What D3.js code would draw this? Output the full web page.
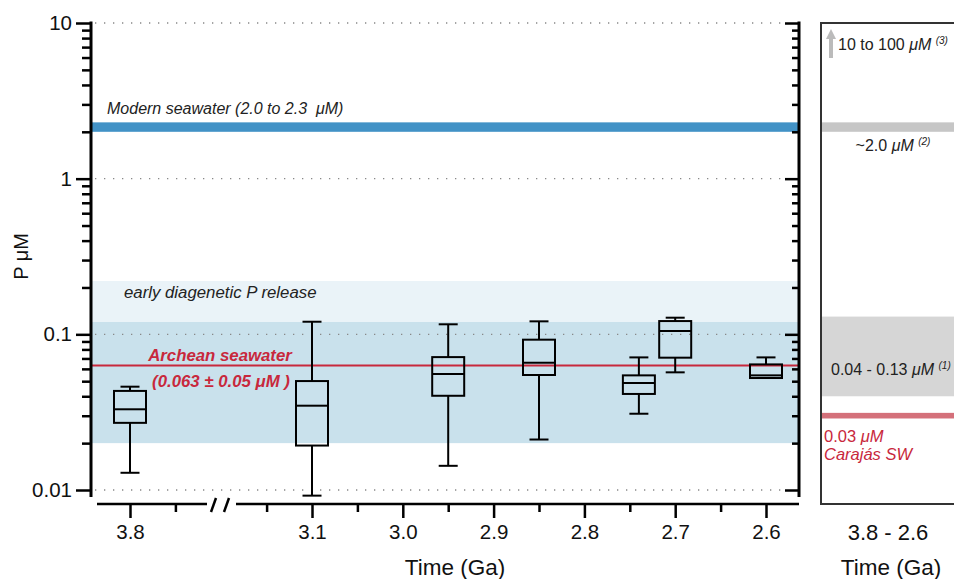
<!DOCTYPE html>
<html>
<head>
<meta charset="utf-8">
<script src="https://cdn.jsdelivr.net/npm/d3@7"></script>
<style>
body { margin: 0; background: #fff; }
text { font-family: "Liberation Sans", Arial, sans-serif; }
</style>
</head>
<body>
<svg width="954" height="579"></svg>
<script>
// box plot data (P, µM)
const ages        = [3.8, 3.1, 2.95, 2.85, 2.74, 2.70, 2.60];
const whiskerLow  = [0.0129, 0.0092, 0.0143, 0.0211, 0.0309, 0.057, 0.0524];
const q1          = [0.0270, 0.0193, 0.0403, 0.0548, 0.0414, 0.0708, 0.0524];
const median      = [0.0330, 0.0348, 0.0556, 0.0657, 0.0487, 0.105, 0.0545];
const q3          = [0.0433, 0.0501, 0.0714, 0.0924, 0.0545, 0.1217, 0.0641];
const whiskerHigh = [0.0461, 0.1205, 0.116, 0.1212, 0.0711, 0.1279, 0.0711];

const xMajorLeft  = [3.8];
const xMinorLeft  = [3.75];
const xMajorRight = [3.1, 3.0, 2.9, 2.8, 2.7, 2.6];
const xMinorRight = [3.15, 3.05, 2.95, 2.85, 2.75, 2.65];
const yMajor = [0.01, 0.1, 1, 10];

// reference ranges
const modernSW       = [2.0, 2.3];
const diageneticBand = [0.12, 0.22];
const archeanBand    = [0.02, 0.12];
const archeanMean    = 0.063;
const panelModern    = [2.0, 2.3];
const panelRange     = [0.04, 0.13];
const carajasSW      = [0.0288, 0.0313];

const svg = d3.select("svg");
const plot = {left: 91, right: 799, top: 23, bottom: 490};

const y = d3.scaleLog().domain([0.01, 10]).range([plot.bottom, plot.top]);
// broken time axis: same Ga-per-pixel on both sides of the break
const xL = d3.scaleLinear().domain([3.8, 3.7]).range([130, 220.8]);
const xR = d3.scaleLinear().domain([3.1, 2.6]).range([312, 766]);
const xPos = a => a > 3.5 ? xL(a) : xR(a);

const yAll = [];
yMajor.slice(0, 3).forEach(d => { for (let k = 1; k < 10; k++) yAll.push(d * k); });
yAll.push(10);
const isMajor = v => yMajor.some(m => Math.abs(m - v) / m < 1e-6);

// bands
function band(lo, hi, fill, x0, x1) {
  svg.append("rect")
    .attr("x", x0).attr("width", x1 - x0)
    .attr("y", y(hi)).attr("height", y(lo) - y(hi))
    .attr("fill", fill);
}
band(diageneticBand[0], diageneticBand[1], "#eaf3f8", plot.left, plot.right);
band(archeanBand[0], archeanBand[1], "#c9e1ec", plot.left, plot.right);
band(modernSW[0], modernSW[1], "#4292c6", plot.left, plot.right);

// dotted grid
svg.append("g").selectAll("line")
  .data(yMajor)
  .join("line")
  .attr("x1", plot.left + 4).attr("x2", plot.right - 12)
  .attr("y1", d => y(d)).attr("y2", d => y(d))
  .attr("stroke", "#888").attr("stroke-width", 1.3)
  .attr("stroke-dasharray", "1.3,7.7");

// archean mean line
svg.append("line")
  .attr("x1", plot.left).attr("x2", plot.right)
  .attr("y1", y(archeanMean)).attr("y2", y(archeanMean))
  .attr("stroke", "#c8283c").attr("stroke-width", 2);

// annotations
svg.append("text").attr("x", 107).attr("y", y(modernSW[1]) - 8)
  .attr("font-size", 16).attr("font-style", "italic").attr("fill", "#222")
  .text("Modern seawater (2.0 to 2.3\u00a0 μM)");
svg.append("text").attr("x", 124).attr("y", y(diageneticBand[1]) + 17)
  .attr("font-size", 16.8).attr("font-style", "italic").attr("fill", "#222")
  .text("early diagenetic P release");
svg.append("text").attr("x", 220).attr("y", y(archeanMean) - 5)
  .attr("text-anchor", "middle").attr("font-size", 16.8)
  .attr("font-style", "italic").attr("font-weight", "bold").attr("fill", "#c8283c")
  .text("Archean seawater");
svg.append("text").attr("x", 221).attr("y", y(archeanMean) + 21)
  .attr("text-anchor", "middle").attr("font-size", 16.8)
  .attr("font-style", "italic").attr("font-weight", "bold").attr("fill", "#c8283c")
  .text("(0.063 ± 0.05 μM )");

// boxes
const boxW = 32, capW = 19;
const boxes = svg.append("g").attr("stroke", "#000").attr("stroke-width", 2).attr("fill", "none");
ages.forEach((a, i) => {
  const cx = xPos(a);
  const g = boxes.append("g");
  g.append("line").attr("x1", cx).attr("x2", cx).attr("y1", y(whiskerHigh[i])).attr("y2", y(q3[i]));
  g.append("line").attr("x1", cx).attr("x2", cx).attr("y1", y(q1[i])).attr("y2", y(whiskerLow[i]));
  g.append("line").attr("x1", cx - capW / 2).attr("x2", cx + capW / 2).attr("y1", y(whiskerHigh[i])).attr("y2", y(whiskerHigh[i]));
  g.append("line").attr("x1", cx - capW / 2).attr("x2", cx + capW / 2).attr("y1", y(whiskerLow[i])).attr("y2", y(whiskerLow[i]));
  g.append("rect").attr("x", cx - boxW / 2).attr("width", boxW)
    .attr("y", y(q3[i])).attr("height", y(q1[i]) - y(q3[i]));
  g.append("line").attr("x1", cx - boxW / 2).attr("x2", cx + boxW / 2).attr("y1", y(median[i])).attr("y2", y(median[i]));
});

// left y axis
const yAxisL = svg.append("g").attr("transform", `translate(${plot.left},0)`)
  .call(d3.axisLeft(y).tickValues(yAll).tickSize(9).tickPadding(8)
    .tickFormat(d => isMajor(d) ? d3.format("~g")(d) : ""));
yAxisL.select(".domain").remove();
yAxisL.selectAll(".tick line").attr("stroke-width", 2.5)
  .filter(d => isMajor(d)).attr("x2", -15);
yAxisL.selectAll(".tick text").attr("font-size", 20.5).attr("fill", "#111")
  .attr("font-family", "Liberation Sans, Arial, sans-serif").attr("x", -19);
yAxisL.append("line").attr("y1", plot.top - 1.5).attr("y2", plot.bottom + 7)
  .attr("stroke", "#000").attr("stroke-width", 3);

// right y axis (ticks inward)
const yAxisR = svg.append("g").attr("transform", `translate(${plot.right},0)`)
  .call(d3.axisRight(y).tickValues(yAll).tickSize(-7).tickFormat(""));
yAxisR.select(".domain").remove();
yAxisR.selectAll(".tick line").attr("stroke-width", 2.5)
  .filter(d => isMajor(d)).attr("x2", -14);
yAxisR.append("line").attr("y1", plot.top - 1.5).attr("y2", plot.bottom + 7)
  .attr("stroke", "#000").attr("stroke-width", 3);

svg.append("text")
  .attr("transform", `translate(28,${(plot.top + plot.bottom) / 2}) rotate(-90)`)
  .attr("text-anchor", "middle").attr("font-size", 20).attr("fill", "#111")
  .text("P μM");

// broken x axis
const axisY = 504;
function xAxisPart(scale, majors, minors, x0, x1) {
  const g = svg.append("g").attr("transform", `translate(0,${axisY})`);
  g.append("line").attr("x1", x0).attr("x2", x1).attr("stroke", "#000").attr("stroke-width", 2.5);
  const maj = g.append("g").call(d3.axisBottom(scale).tickValues(majors).tickSize(14).tickPadding(6)
    .tickFormat(d3.format(".1f")));
  maj.select(".domain").remove();
  maj.selectAll(".tick line").attr("stroke-width", 2.5);
  maj.selectAll(".tick text").attr("font-size", 20.5).attr("fill", "#111")
    .attr("font-family", "Liberation Sans, Arial, sans-serif");
  const mnr = g.append("g").call(d3.axisBottom(scale).tickValues(minors).tickSize(8).tickFormat(""));
  mnr.select(".domain").remove();
  mnr.selectAll(".tick line").attr("stroke-width", 2.5);
}
xAxisPart(xL, xMajorLeft, xMinorLeft, 97, 207);
xAxisPart(xR, xMajorRight, xMinorRight, 236, plot.right);
// break marks
const brk = svg.append("g").attr("stroke", "#000").attr("stroke-width", 2.5);
[211, 224].forEach(bx => {
  brk.append("line").attr("x1", bx).attr("x2", bx + 5).attr("y1", axisY + 8).attr("y2", axisY - 6);
});

svg.append("text").attr("x", 455).attr("y", 575)
  .attr("text-anchor", "middle").attr("font-size", 22.5).attr("fill", "#111")
  .text("Time (Ga)");

// right-hand comparison panel
const panel = {left: 821, right: 960};
band(panelModern[0], panelModern[1], "#c6c6c6", panel.left, panel.right);
band(panelRange[0], panelRange[1], "#d6d6d6", panel.left, panel.right);
band(carajasSW[0], carajasSW[1], "#d4707a", panel.left, panel.right);
svg.append("rect")
  .attr("x", panel.left).attr("y", plot.top)
  .attr("width", panel.right - panel.left).attr("height", axisY - plot.top)
  .attr("fill", "none").attr("stroke", "#333").attr("stroke-width", 2);

// arrow for 10-100 µM
const arrowX = 831;
svg.append("line").attr("x1", arrowX).attr("x2", arrowX)
  .attr("y1", y(10) + 35).attr("y2", y(10) + 14)
  .attr("stroke", "#bbb").attr("stroke-width", 4);
svg.append("path")
  .attr("d", `M${arrowX - 5},${y(10) + 16}L${arrowX},${y(10) + 6}L${arrowX + 5},${y(10) + 16}Z`)
  .attr("fill", "#bbb");

function panelLabel(x, yy, parts, anchor) {
  const t = svg.append("text").attr("x", x).attr("y", yy)
    .attr("font-size", 16).attr("fill", "#222").attr("text-anchor", anchor || "start");
  parts.forEach(p => {
    const s = t.append("tspan").text(p.t);
    if (p.i) s.attr("font-style", "italic");
    if (p.sup) s.attr("font-size", 10).attr("dy", -6);
  });
}
panelLabel(838, 50, [{t: "10 to 100 "}, {t: "μM", i: true}, {t: " "}, {t: "(3)", i: true, sup: true}]);
panelLabel(893, y(panelModern[0]) + 19, [{t: "~2.0 "}, {t: "μM", i: true}, {t: " "}, {t: "(2)", i: true, sup: true}], "middle");
panelLabel(831, 375, [{t: "0.04 - 0.13 "}, {t: "μM", i: true}, {t: " "}, {t: "(1)", i: true, sup: true}]);

const red = svg.append("text").attr("x", 824).attr("font-size", 16.5).attr("fill", "#c8283c");
red.append("tspan").attr("x", 824).attr("y", 442).text("0.03 ");
red.append("tspan").attr("font-style", "italic").text("μM");
red.append("tspan").attr("x", 824).attr("y", 460).attr("font-style", "italic").text("Carajás SW");

svg.append("text").attr("x", 888).attr("y", 540)
  .attr("text-anchor", "middle").attr("font-size", 22).attr("fill", "#111")
  .text("3.8 - 2.6");
svg.append("text").attr("x", 891).attr("y", 575)
  .attr("text-anchor", "middle").attr("font-size", 22.5).attr("fill", "#111")
  .text("Time (Ga)");
</script>
</body>
</html>
